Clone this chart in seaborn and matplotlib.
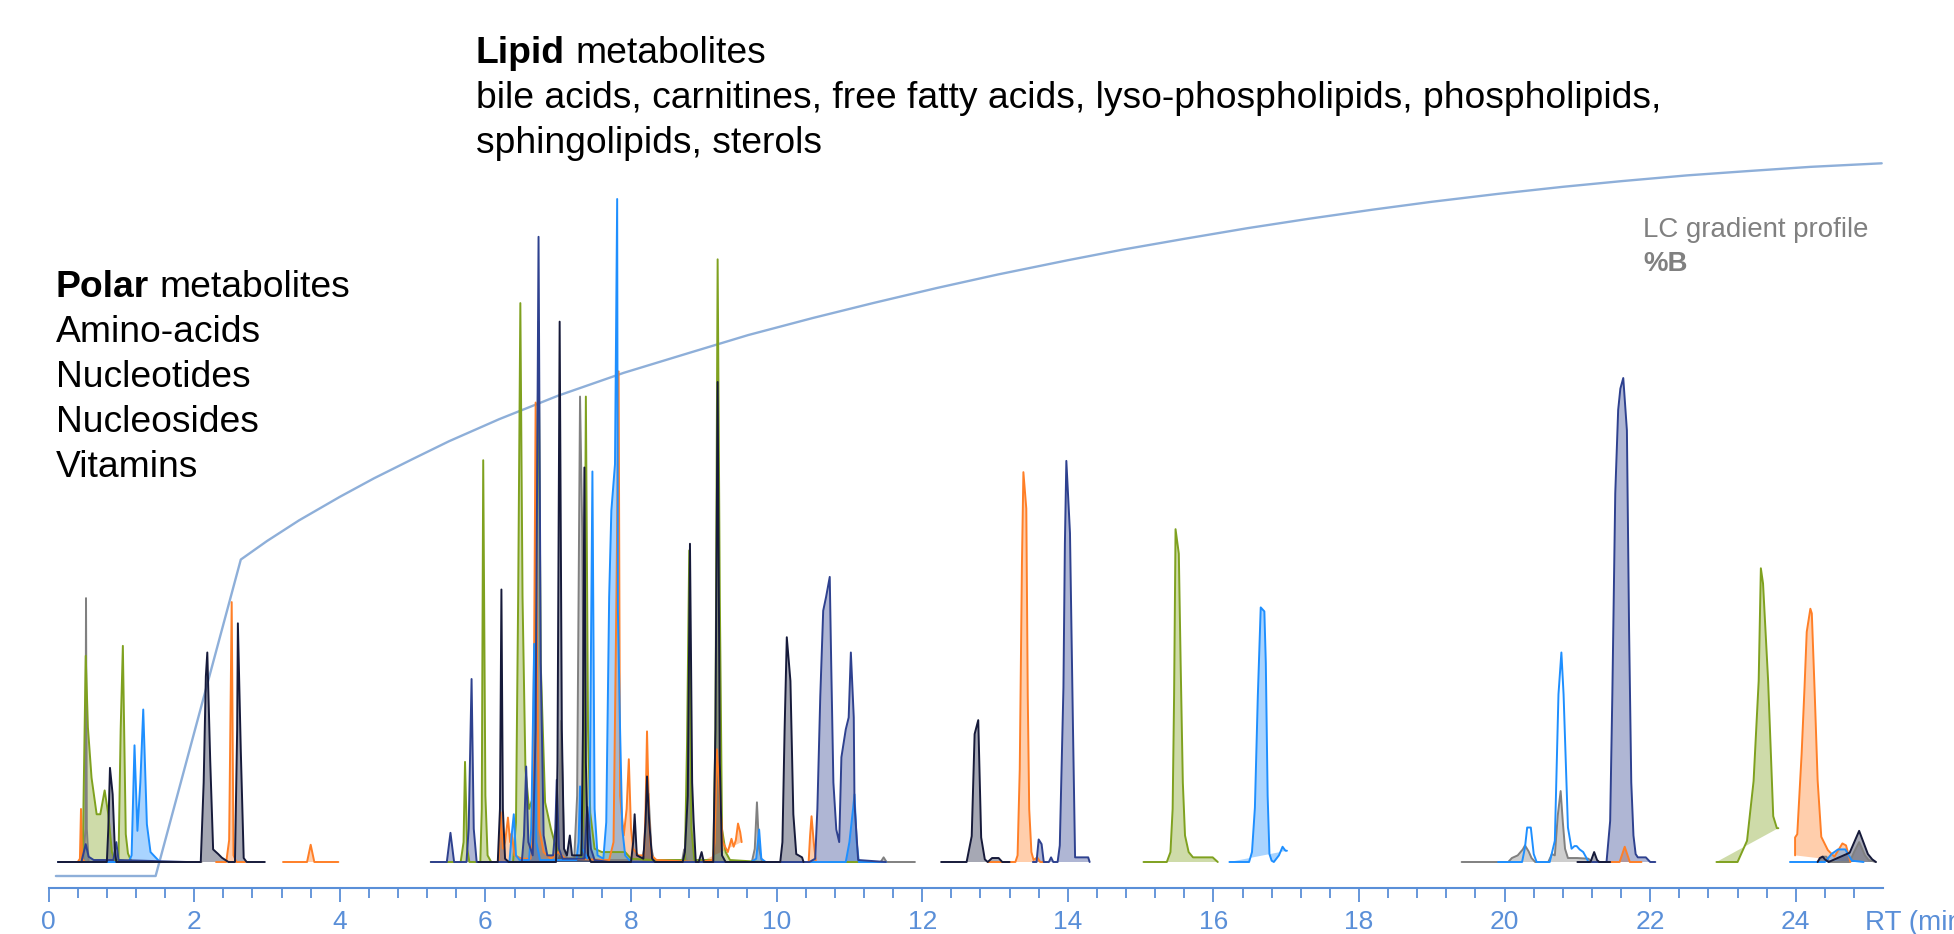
import matplotlib
matplotlib.use("Agg")
import matplotlib.pyplot as plt
import seaborn as sns
import pandas as pd

# ---------------- data (RT in min, intensity in % of tallest peak) ----------------
OLIVE = [
    [(0.13,0),(0.45,0),(0.47,2),(0.51,31.1),(0.54,20.3),(0.59,12.7),(0.66,7.2),(0.71,7.2),(0.77,10.8),(0.82,7.2),(0.87,1.5),(0.91,0.3),(0.96,0.3),(0.99,20),(1.02,32.6),(1.06,4.2),(1.09,1.3),(1.14,0),(1.55,0)],
    [(5.25,0),(5.66,0),(5.70,3),(5.72,15.1),(5.75,2),(5.78,0),(5.93,0),(5.95,8),(5.97,60.6),(6.00,10),(6.03,1),(6.08,0),(6.38,0),(6.42,6),(6.45,40),(6.48,84.3),(6.51,40),(6.55,14),(6.60,8),(6.66,10),(6.70,40),(6.73,81.5),(6.76,30),(6.82,9),(6.90,5),(6.95,3),(7.00,1.5),(7.08,0.5),(7.31,0.5),(7.35,8),(7.38,70.2),(7.41,20),(7.44,7.4),(7.50,2),(7.60,1.5),(7.92,1.5),(8.00,0.5),(8.30,0.3),(8.74,0.3),(8.77,18),(8.80,47),(8.83,5),(8.87,0.3),(9.13,0.3),(9.16,20),(9.19,90.9),(9.22,40),(9.25,5),(9.30,1.5),(9.36,0.3),(9.80,0),(11.40,0)],
    [(15.04,0),(15.36,0),(15.41,1.5),(15.44,8),(15.46,25),(15.48,50.2),(15.525,46.5),(15.55,30),(15.58,12),(15.61,4),(15.66,1.5),(15.72,0.7),(15.99,0.7),(16.06,0)],
    [(22.91,0),(23.20,0),(23.33,3.2),(23.42,12.2),(23.49,27.3),(23.52,44.3),(23.55,42),(23.62,27.3),(23.69,6.9),(23.74,5.1),(23.76,5.1)],
]
ORANGE = [
    [(0.13,0),(0.40,0),(0.43,0.5),(0.445,8),(0.46,0.5),(0.50,0),(0.60,0)],
    [(2.30,0),(2.44,0),(2.48,3.3),(2.515,39.2),(2.54,1),(2.58,0),(2.70,0)],
    [(3.22,0),(3.55,0),(3.60,2.6),(3.65,0),(3.98,0)],
    [(5.90,0),(6.18,0),(6.21,7.5),(6.24,2),(6.27,3),(6.31,6.7),(6.34,3),(6.36,4.3),(6.40,1),(6.50,0.5),(6.62,0.5),(6.65,10),(6.67,33),(6.69,69.3),(6.71,30),(6.74,5),(6.80,1.5),(6.90,0.5),(7.00,1.5),(7.10,0.5),(7.70,0.3),(7.76,3),(7.80,40),(7.83,74),(7.85,10),(7.90,4),(7.94,8),(7.97,15.5),(8.00,5),(8.03,2),(8.10,1),(8.18,1),(8.20,8),(8.22,19.7),(8.25,6),(8.28,1),(8.35,0.3),(8.90,0)],
    [(8.95,0),(9.12,0.3),(9.15,3),(9.18,17),(9.21,12),(9.26,3),(9.33,1.5),(9.38,3.5),(9.41,2.3),(9.44,3.3),(9.47,5.8),(9.50,4.5),(9.52,3.0)],
    [(10.30,0),(10.44,0),(10.46,4),(10.48,6.9),(10.51,3),(10.54,0),(10.70,0)],
    [(12.90,0),(13.28,0),(13.31,1),(13.34,14),(13.37,45),(13.39,58.8),(13.43,53.3),(13.45,25),(13.47,8),(13.50,1.5),(13.53,0.3),(13.58,0.7),(13.62,0),(13.70,0)],
    [(21.40,0),(21.58,0),(21.65,2.3),(21.72,0),(21.88,0)],
    [(23.99,1.0),(23.99,3.7),(24.02,4.2),(24.08,16.3),(24.12,26.4),(24.15,34.7),(24.20,38.2),(24.22,37.5),(24.26,25.4),(24.30,12.3),(24.35,3.8),(24.44,1.8),(24.53,0.8),(24.64,2.8),(24.69,2.5),(24.75,0)],
]
NAVY = [
    [(0.13,0),(0.45,0),(0.51,2.7),(0.55,0.8),(0.62,0.3),(0.89,0.3),(0.93,3),(0.96,0.3),(1.90,0)],
    [(5.25,0),(5.47,0),(5.52,4.4),(5.57,0),(5.74,0),(5.77,5),(5.81,27.6),(5.84,5),(5.88,0),(6.50,0),(6.53,4),(6.56,14.4),(6.59,3),(6.65,1),(6.69,20),(6.73,94.3),(6.76,30),(6.80,4),(6.85,1),(6.93,1),(6.96,5),(6.98,12.4),(7.01,2),(7.06,0.5),(7.36,0.5),(7.40,8.3),(7.45,2),(7.50,0.3),(7.70,0),(10.45,0),(10.53,0.5),(10.56,8),(10.60,25),(10.64,37.9),(10.68,40),(10.73,43),(10.75,30),(10.78,12),(10.82,4.9),(10.86,3),(10.89,15.8),(10.95,20),(10.99,21.8),(11.02,31.6),(11.06,21.8),(11.07,8.8),(11.12,0.3),(11.50,0)],
    [(13.52,0),(13.57,0),(13.60,3.4),(13.64,2.7),(13.67,0),(13.74,0),(13.77,0.7),(13.80,0),(13.86,0),(13.89,2.5),(13.94,26.3),(13.96,48),(13.98,60.5),(14.03,49.6),(14.07,21),(14.10,0.7),(14.28,0.7),(14.30,0)],
    [(21.20,0),(21.40,0),(21.45,6.2),(21.48,25.3),(21.52,55.6),(21.56,68.2),(21.59,71.4),(21.63,73.0),(21.68,65.1),(21.71,35),(21.74,12),(21.77,4),(21.80,1.2),(21.83,0.7),(21.94,0.7),(22.00,0),(22.07,0)],
]
BLUE = [
    [(0.13,0),(1.10,0),(1.14,1),(1.18,17.6),(1.22,4.7),(1.26,12),(1.30,23),(1.35,5.7),(1.40,1.5),(1.46,0.8),(1.53,0),(1.60,0)],
    [(5.90,0),(6.33,0),(6.36,4),(6.39,7.2),(6.42,1),(6.47,0.3),(6.60,0.3),(6.63,5),(6.67,32.9),(6.70,3),(6.75,0.3),(7.25,0.3),(7.28,3),(7.30,11.4),(7.33,2),(7.40,0.5),(7.43,5),(7.47,58.9),(7.50,8),(7.54,1),(7.62,0.5),(7.66,6),(7.70,40),(7.73,53),(7.78,60),(7.81,100),(7.82,38),(7.85,20),(7.88,5),(7.92,1),(8.00,0),(9.65,0),(9.72,0.5),(9.76,4.9),(9.79,0.5),(9.85,0),(10.95,0),(11.00,3),(11.05,8),(11.07,10.2),(11.10,3),(11.13,0),(11.50,0)],
    [(16.22,0),(16.49,0),(16.53,1.5),(16.57,8.2),(16.61,25),(16.65,38.4),(16.70,37.8),(16.72,30),(16.745,10),(16.77,1.2),(16.80,0.2),(16.83,0),(16.90,1.0),(16.95,2.3),(16.99,1.7),(17.01,1.7)],
    [(19.91,0),(20.24,0),(20.28,2.2),(20.31,5.2),(20.36,5.2),(20.40,1.2),(20.44,0),(20.62,0),(20.69,3.2),(20.74,25.3),(20.78,31.6),(20.81,25.3),(20.87,5.2),(20.92,2.0),(20.96,2.4),(20.99,2.4),(21.03,1.9),(21.08,1.5),(21.13,0.5),(21.15,0)],
    [(23.92,0),(24.40,0),(24.49,1.2),(24.58,1.9),(24.68,1.9),(24.77,0.2),(24.93,0)],
]
GRAY = [
    [(0.13,0),(0.48,0),(0.505,5),(0.514,39.8),(0.525,5),(0.55,0),(2.10,0)],
    [(5.90,0),(6.95,0),(7.00,1),(7.04,21.3),(7.08,2),(7.12,0.5),(7.22,0.5),(7.26,10),(7.30,70.2),(7.33,50),(7.36,8),(7.40,1),(7.45,0.3),(8.15,0.3),(8.20,3),(8.24,10.3),(8.28,2),(8.32,0),(8.70,0),(8.73,1.9),(8.77,0),(9.66,0),(9.70,2),(9.73,9.0),(9.76,2),(9.80,0),(11.43,0),(11.47,0.7),(11.51,0),(11.90,0)],
    [(19.41,0),(20.05,0),(20.10,0.6),(20.18,1.0),(20.25,1.9),(20.28,2.5),(20.33,1.6),(20.37,0.6),(20.42,0),(20.60,0),(20.65,1.2),(20.69,1.0),(20.73,7),(20.77,10.7),(20.80,6),(20.83,2),(20.87,0.6),(21.00,0.6),(21.15,0.5),(21.20,0)],
    [(24.30,0),(24.36,0.8),(24.42,0.8),(24.46,0),(24.74,0),(24.80,1.5),(24.87,3.0),(24.95,1.0),(25.00,0.3),(25.10,0)],
]
BLACK = [
    [(0.13,0),(0.80,0),(0.82,5),(0.843,14.2),(0.88,10.2),(0.91,2),(0.93,0),(2.09,0),(2.13,12),(2.16,28),(2.18,31.6),(2.22,15.3),(2.26,1.9),(2.33,1.2),(2.38,0.65),(2.47,0),(2.56,0),(2.59,20),(2.60,36),(2.64,16.8),(2.68,0.6),(2.72,0),(2.97,0)],
    [(5.90,0),(6.17,0),(6.20,8),(6.22,41.1),(6.24,8),(6.27,0.5),(6.32,0),(6.97,0),(6.99,15),(7.02,81.5),(7.05,20),(7.08,2),(7.12,1),(7.16,4),(7.19,1),(7.32,1),(7.34,20),(7.36,59.5),(7.38,15),(7.41,1),(7.45,0),(8.00,0),(8.03,3),(8.05,7.2),(8.08,1),(8.17,0.5),(8.20,6),(8.22,12.9),(8.25,6),(8.29,0.5),(8.33,0),(8.71,0),(8.74,1.5),(8.78,10),(8.81,48),(8.84,12),(8.86,6.2),(8.89,0),(8.93,0),(8.97,1.5),(9.00,0),(9.13,0),(9.16,20),(9.19,72.4),(9.22,15),(9.25,1),(9.30,0),(10.05,0),(10.08,3),(10.11,20),(10.14,33.9),(10.19,27.3),(10.23,7.2),(10.27,1.2),(10.35,0.7),(10.37,0)],
    [(12.26,0),(12.61,0),(12.68,3.9),(12.72,19.3),(12.77,21.4),(12.81,3.7),(12.86,0.4),(12.90,0),(12.96,0.6),(13.05,0.6),(13.10,0),(13.20,0)],
    [(21.00,0),(21.18,0),(21.23,1.5),(21.27,0.3),(21.30,0),(21.45,0)],
    [(24.30,0),(24.33,0.6),(24.37,0.8),(24.40,0.4),(24.45,0),(24.74,1.4),(24.87,4.7),(24.99,1.2),(25.05,0.4),(25.10,0)],
]
NO_FILL = {("blue", 3)}

GRAD_T = [0.10, 1.47, 2.64, 3.00, 3.44, 4.00, 4.47, 5.00, 5.50, 6.19, 7.00, 7.90, 8.80, 9.61,
          10.50, 11.33, 12.20, 13.04, 14.00, 14.76, 15.60, 16.47, 17.30, 18.19, 19.00, 19.90,
          20.80, 21.61, 22.50, 23.33, 24.20, 25.18]
GRAD_B = [0, 0, 44.4, 47.0, 49.9, 53.2, 55.8, 58.5, 61.0, 64.1, 67.4, 70.6, 73.4, 75.9,
          78.3, 80.4, 82.5, 84.4, 86.4, 87.9, 89.4, 90.9, 92.2, 93.5, 94.6, 95.7,
          96.7, 97.5, 98.3, 98.9, 99.5, 100]

MAJOR_TICKS = [0, 2, 4, 6, 8, 10, 12, 14, 16, 18, 20, 22, 24]
AXIS_END = 25.2

POLAR_LINES = ["Amino-acids", "Nucleotides", "Nucleosides", "Vitamins"]
LIPID_LINES = ["bile acids, carnitines, free fatty acids, lyso-phospholipids, phospholipids,",
               "sphingolipids, sterols"]

# ---------------- style ----------------
COLORS = {"gray": "#808080", "blue": "#1e8fff", "orange": "#ff7f27",
          "olive": "#7fa11f", "navy": "#2e418f", "black": "#161a3a"}
SERIES = [("gray", GRAY), ("olive", OLIVE), ("orange", ORANGE),
          ("blue", BLUE), ("navy", NAVY), ("black", BLACK)]
AXC = "#5a8fd8"
GRADC = "#8eafd9"

sns.set_theme(style="white")
plt.rcParams['font.family'] = ['Liberation Sans', 'DejaVu Sans']

W, H = 1954, 934
X0, PXMIN = 48.6, 72.8
Y_AX, Y_BASE, PXU = 887.7, 862.0, 6.63
Y_G0, PXB = 876.0, 7.127

fig = plt.figure(figsize=(W / 100, H / 100), dpi=100)
ax = fig.add_axes([X0 / W, 1 - Y_AX / H, 1 - X0 / W, Y_AX / H])
ax2 = ax.twinx()
ax.set_zorder(ax2.get_zorder() + 1)
ax.patch.set_visible(False)

# gradient profile
sns.lineplot(x=GRAD_T, y=GRAD_B, ax=ax2, color=GRADC, lw=1.7, sort=False, estimator=None)
ax2.set_ylim(-(Y_AX - Y_G0) / PXB, Y_G0 / PXB)
ax2.set_axis_off()

# chromatogram traces
for name, segs in SERIES:
    c = COLORS[name]
    for k, seg in enumerate(segs):
        if (name, k) in NO_FILL:
            continue
        ts = [p[0] for p in seg]
        vs = [p[1] for p in seg]
        ax.fill(ts, vs, color=c, alpha=0.38, lw=0, zorder=1)
for name, segs in SERIES:
    rows = [(p[0], p[1], k) for k, seg in enumerate(segs) for p in seg]
    df = pd.DataFrame(rows, columns=["t", "I", "seg"])
    sns.lineplot(data=df, x="t", y="I", units="seg", estimator=None, sort=False,
                 color=COLORS[name], lw=1.4, ax=ax, legend=False, zorder=3)

ax.set_xlim(0, (W - X0) / PXMIN)
ax.set_ylim(-(Y_AX - Y_BASE) / PXU, Y_BASE / PXU)
ax.set_xlabel("")
ax.set_ylabel("")
for s in ["left", "right", "top"]:
    ax.spines[s].set_visible(False)
ax.spines["bottom"].set_bounds(0, AXIS_END)
ax.spines["bottom"].set_color(AXC)
ax.spines["bottom"].set_linewidth(1.5)
ax.set_xticks(MAJOR_TICKS)
ax.set_xticklabels([str(v) for v in MAJOR_TICKS])
minor = [round(0.4 * k, 1) for k in range(int(AXIS_END / 0.4) + 1) if k % 5 != 0]
ax.set_xticks(minor, minor=True)
ax.tick_params(axis="x", which="major", direction="out", length=10, width=1.3,
               color=AXC, labelcolor=AXC, labelsize=19, pad=6, bottom=True)
ax.tick_params(axis="x", which="minor", direction="out", length=7.5, width=1.3,
               color=AXC, bottom=True)
ax.tick_params(axis="y", left=False, labelleft=False)
ax.grid(False)

# ---------------- texts ----------------
FS = 26.8
def fx(px):
    return px / W
def fy(py):
    return 1 - py / H

fig.canvas.draw()
r = fig.canvas.get_renderer()

def bold_then_regular(xpx, ypx, b, rest, size, color):
    t1 = fig.text(fx(xpx), fy(ypx), b, fontsize=size, fontweight="bold", color=color, va="baseline")
    bb = t1.get_window_extent(r)
    fig.text((bb.x1 + 0.278 * size * 100 / 72) / W, fy(ypx), rest, fontsize=size,
             color=color, va="baseline")

bold_then_regular(56, 297, "Polar", "metabolites", FS, "black")
for i, line in enumerate(POLAR_LINES):
    fig.text(fx(56), fy(342 + 45 * i), line, fontsize=FS, color="black", va="baseline")

bold_then_regular(476, 63, "Lipid", "metabolites", FS, "black")
for i, line in enumerate(LIPID_LINES):
    fig.text(fx(476), fy(108 + 45 * i), line, fontsize=FS, color="black", va="baseline")

fig.text(fx(1643), fy(237), "LC gradient profile", fontsize=19.9, color="#808080", va="baseline")
fig.text(fx(1643), fy(271), "%B", fontsize=19.9, color="#808080", fontweight="bold", va="baseline")

fig.text(fx(1865), fy(910), "RT (min)", fontsize=20, color=AXC, va="top", ha="left")

fig.savefig("out.png", dpi=100)
